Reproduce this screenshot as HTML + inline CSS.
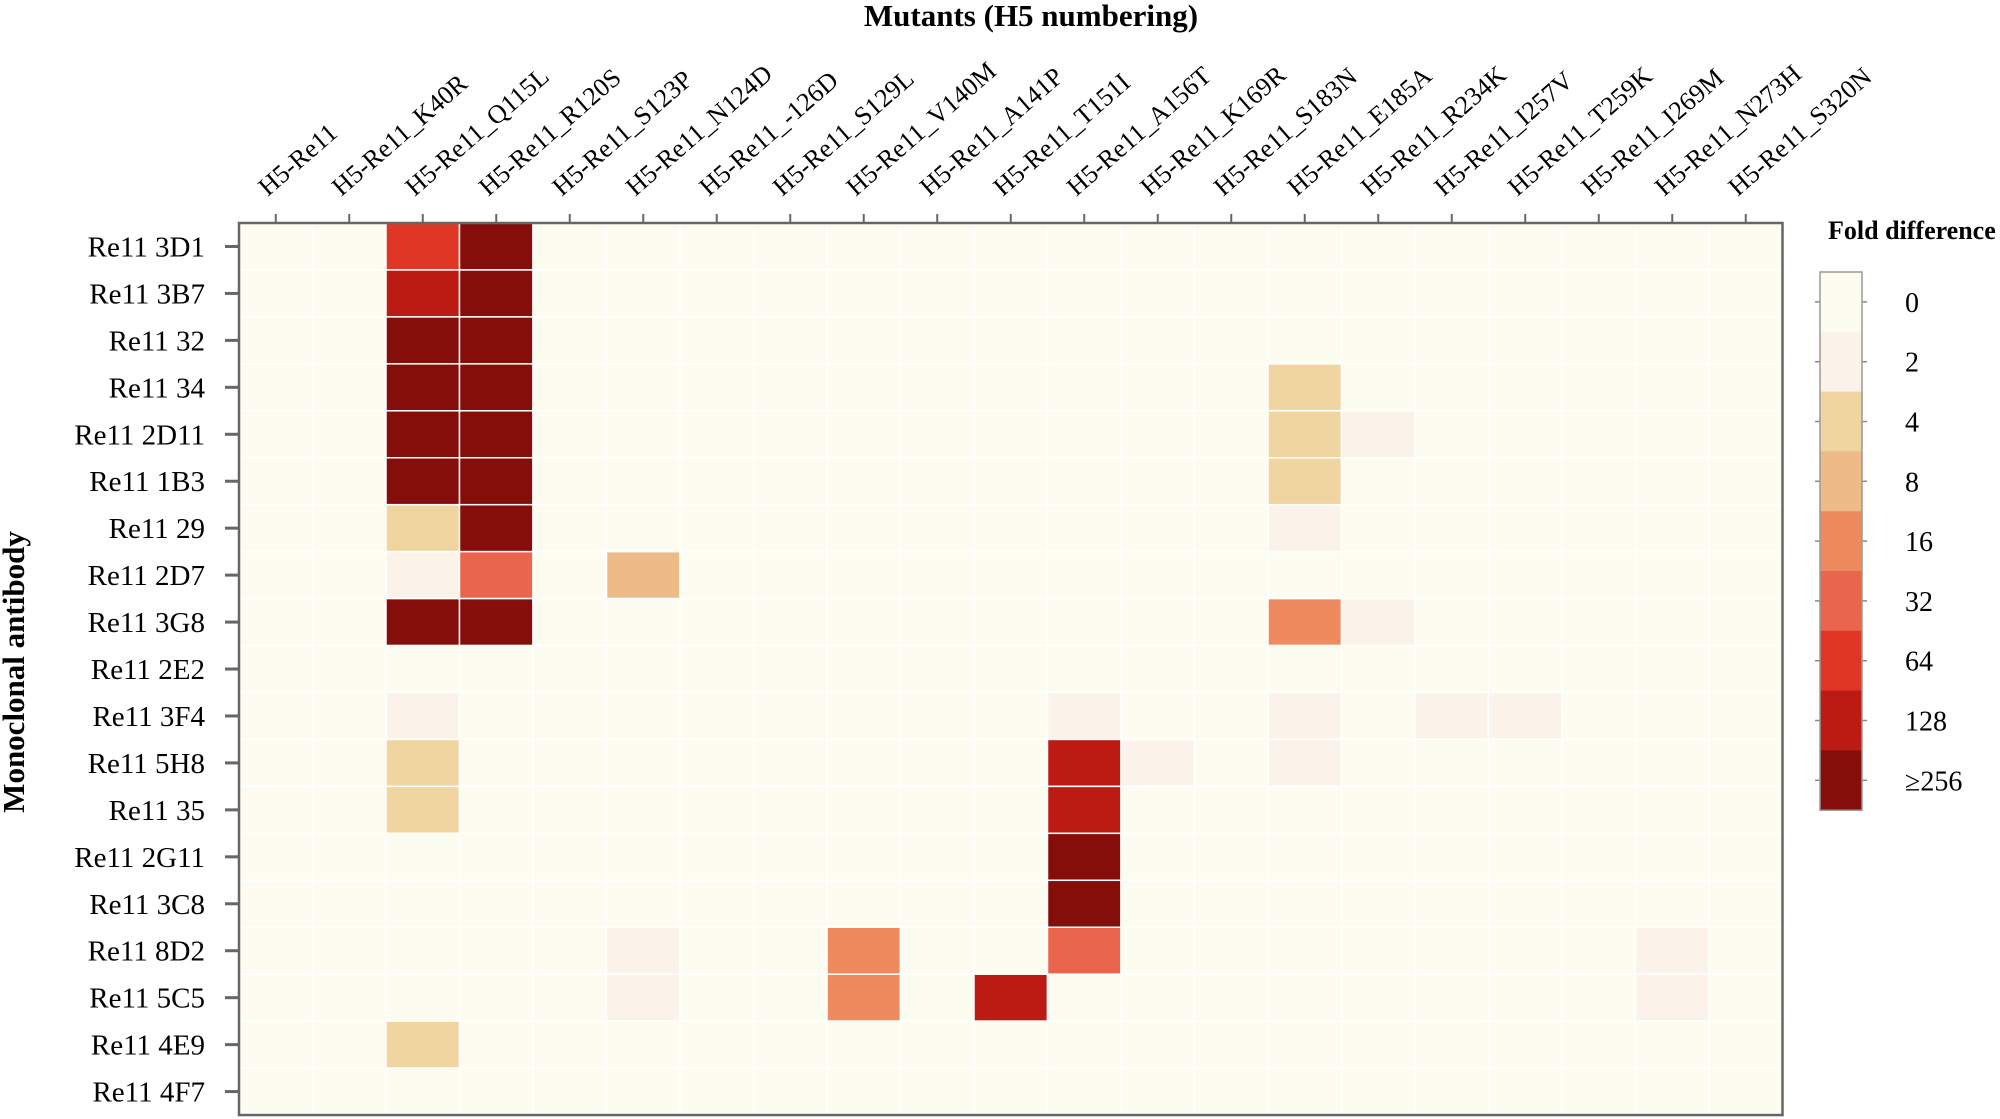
<!DOCTYPE html>
<html><head><meta charset="utf-8"><style>
html,body{margin:0;padding:0;background:#fff;}
svg{display:block;font-family:"Liberation Serif",serif;}
</style></head><body>
<svg id="s" width="2000" height="1119" xmlns="http://www.w3.org/2000/svg">
<text x="1031" y="26" font-size="31" font-weight="bold" text-anchor="middle">Mutants (H5 numbering)</text>
<text transform="translate(24,672) rotate(-90)" font-size="31" font-weight="bold" text-anchor="middle">Monoclonal antibody</text>
<text x="1828" y="239" font-size="26" font-weight="bold">Fold difference</text>
<g id="g"></g>
</svg>
<script>
const L=239,T=223,W=73.5,H=46.95,NC=21,NR=19;
const cols=["H5-Re11","H5-Re11_K40R","H5-Re11_Q115L","H5-Re11_R120S","H5-Re11_S123P","H5-Re11_N124D","H5-Re11_-126D","H5-Re11_S129L","H5-Re11_V140M","H5-Re11_A141P","H5-Re11_T151I","H5-Re11_A156T","H5-Re11_K169R","H5-Re11_S183N","H5-Re11_E185A","H5-Re11_R234K","H5-Re11_I257V","H5-Re11_T259K","H5-Re11_I269M","H5-Re11_N273H","H5-Re11_S320N"];
const rows=["Re11 3D1","Re11 3B7","Re11 32","Re11 34","Re11 2D11","Re11 1B3","Re11 29","Re11 2D7","Re11 3G8","Re11 2E2","Re11 3F4","Re11 5H8","Re11 35","Re11 2G11","Re11 3C8","Re11 8D2","Re11 5C5","Re11 4E9","Re11 4F7"];
const C={0:"#fcfcf0",2:"#fbf3ea",4:"#f0d5a0",8:"#eeba88",16:"#ee8a5e",32:"#e9654c",64:"#df3626",128:"#bb1b13",256:"#850d0a"};
const D={"0,2":64,"0,3":256,"1,2":128,"1,3":256,"2,2":256,"2,3":256,"3,2":256,"3,3":256,"3,14":4,
"4,2":256,"4,3":256,"4,14":4,"4,15":2,"5,2":256,"5,3":256,"5,14":4,"6,2":4,"6,3":256,"6,14":2,
"7,2":2,"7,3":32,"7,5":8,"8,2":256,"8,3":256,"8,14":16,"8,15":2,
"10,2":2,"10,11":2,"10,14":2,"10,16":2,"10,17":2,"11,2":4,"11,11":128,"11,12":2,"11,14":2,
"12,2":4,"12,11":128,"13,11":256,"14,11":256,"15,5":2,"15,8":16,"15,11":32,"15,19":2,
"16,5":2,"16,8":16,"16,10":128,"16,19":2,"17,2":4};
let s="";
for(let r=0;r<NR;r++)for(let c=0;c<NC;c++){const v=D[r+","+c]||0;
s+=`<rect x="${L+c*W}" y="${T+r*H}" width="${W}" height="${H}" fill="${C[v]}" stroke="#fff" stroke-width="1.5"/>`;}
s+=`<rect x="${L}" y="${T}" width="${W*NC}" height="${H*NR}" fill="none" stroke="#666" stroke-width="2.5"/>`;
for(let c=0;c<NC;c++){const x=L+(c+0.5)*W;
s+=`<line x1="${x}" y1="${T-9}" x2="${x}" y2="${T}" stroke="#666" stroke-width="2"/>`;
s+=`<text transform="translate(${x-8},${T-26}) rotate(-41)" font-size="26">${cols[c]}</text>`;}
for(let r=0;r<NR;r++){const y=T+(r+0.5)*H;
s+=`<line x1="${L-14}" y1="${y}" x2="${L}" y2="${y}" stroke="#666" stroke-width="3"/>`;
s+=`<text x="205" y="${y+10}" font-size="29" text-anchor="end">${rows[r]}</text>`;}
const ks=[0,2,4,8,16,32,64,128,256],lab=["0","2","4","8","16","32","64","128","≥256"];
const by=272,bh=59.8;
ks.forEach((k,i)=>{const y=by+i*bh;
s+=`<rect x="1820" y="${y}" width="42" height="${bh+0.5}" fill="${C[k]}"/>`;
s+=`<line x1="1815" y1="${y+bh/2}" x2="1820" y2="${y+bh/2}" stroke="#888" stroke-width="1.5"/><line x1="1862" y1="${y+bh/2}" x2="1867" y2="${y+bh/2}" stroke="#888" stroke-width="1.5"/>`;
s+=`<text x="1905" y="${y+bh/2+10}" font-size="28">${lab[i]}</text>`;});
s+=`<rect x="1820" y="${by}" width="42" height="${bh*9}" fill="none" stroke="#999" stroke-width="1.5"/>`;
document.getElementById("g").innerHTML=s;
</script>
</body></html>
